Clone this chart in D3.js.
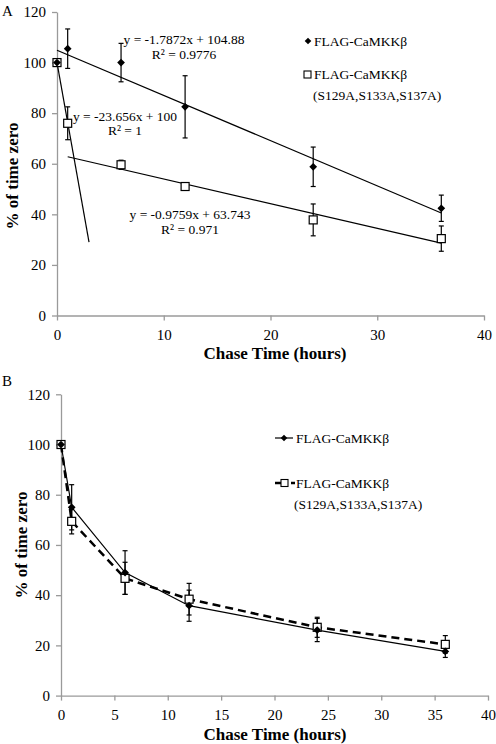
<!DOCTYPE html>
<html><head><meta charset="utf-8">
<script src="https://cdn.jsdelivr.net/npm/d3@7"></script>
<style>body{margin:0;background:#fff}svg{display:block}svg text{font-family:"Liberation Serif","Times New Roman","DejaVu Serif",serif !important}</style>
</head><body>
<svg id="c" width="496" height="744" font-family="Liberation Serif"></svg>
<script>
// ---- data ----
const hours = [0, 1, 6, 12, 24, 36];
const xTicksA = [0, 10, 20, 30, 40];
const xTicksB = [0, 5, 10, 15, 20, 25, 30, 35, 40];
const yTicks = [0, 20, 40, 60, 80, 100, 120];
// Panel A
const wtA = [100, 105.5, 100, 82.5, 58.8, 42.4];
const wtAErr = [0, 7.8, 7.6, 12.3, 7.8, 5.2];
const mutA = [100, 76, 59.6, 51, 37.8, 30.4];
const mutAErr = [0, 6.5, 1.8, 1.3, 6.3, 5.0];
const fits = [
  {slope: -1.7872, intercept: 104.88, from: 0, to: 36, eq: "y = -1.7872x + 104.88", r2: "R² = 0.9776"},
  {slope: -23.656, intercept: 100, from: 0, to: 3, eq: "y = -23.656x + 100", r2: "R² = 1"},
  {slope: -0.9759, intercept: 63.743, from: 1, to: 36, eq: "y = -0.9759x + 63.743", r2: "R² = 0.971"}
];
// Panel B
const wtB = [100, 75, 49, 35.8, 26.1, 17.6];
const wtBErr = [0, 9, 8.7, 6.2, 4.6, 2.4];
const mutB = [100, 69.4, 46.7, 38.4, 27.2, 20.4];
const mutBErr = [0, 5, 6.4, 6.3, 4.0, 3.5];
const legendLabels = ["FLAG-CaMKKβ", "FLAG-CaMKKβ", "(S129A,S133A,S137A)"];

const svg = d3.select("#c");
const axisCol = "#9a9a9a";
const FF = '"Liberation Serif","Times New Roman",serif';

function txt(x, y, s, size, anchor, bold) {
  return svg.append("text").attr("x", x).attr("y", y).attr("font-family", FF)
    .attr("font-size", size).attr("text-anchor", anchor || "start")
    .attr("font-weight", bold ? "bold" : "normal").text(s);
}

function drawAxes(x, y, xticks, panelLetter, letterY, titleY, ytitleX, ytitleY) {
  const g = svg.append("g");
  const yAx = g.append("g").attr("transform", `translate(${x.range()[0]},0)`)
    .call(d3.axisLeft(y).tickValues(yTicks).tickSize(5).tickPadding(6).tickSizeOuter(0));
  const xAx = g.append("g").attr("transform", `translate(0,${y.range()[0]})`)
    .call(d3.axisBottom(x).tickValues(xticks).tickSize(5).tickPadding(9).tickSizeOuter(0));
  [yAx, xAx].forEach(a => {
    a.attr("font-family", FF).attr("font-size", 15);
    a.select(".domain").attr("stroke", axisCol).attr("stroke-width", 1.3);
    a.selectAll(".tick line").attr("stroke", axisCol).attr("stroke-width", 1.3);
    a.selectAll("text").attr("fill", "#000");
  });
  txt(2, letterY, panelLetter, 15);
  txt(275, titleY, "Chase Time (hours)", 17, "middle", true);
  svg.append("text").attr("transform", `translate(${ytitleX},${ytitleY}) rotate(-90)`)
    .attr("font-family", FF).attr("font-size", 17).attr("font-weight", "bold")
    .attr("text-anchor", "middle").text("% of time zero");
}

function errBars(x, y, vals, errs) {
  hours.forEach((h, i) => {
    if (!errs[i]) return;
    const cx = x(h), t = y(vals[i] + errs[i]), b = y(vals[i] - errs[i]);
    svg.append("line").attr("x1", cx).attr("x2", cx).attr("y1", t).attr("y2", b).attr("stroke", "#000").attr("stroke-width", 1.2);
    [t, b].forEach(yy => svg.append("line").attr("x1", cx - 2.5).attr("x2", cx + 2.5).attr("y1", yy).attr("y2", yy).attr("stroke", "#000").attr("stroke-width", 1.2));
  });
}
function diamonds(x, y, vals) {
  hours.forEach((h, i) => svg.append("path").attr("d", d3.symbol().type(d3.symbolSquare).size(30)())
    .attr("transform", `translate(${x(h)},${y(vals[i])}) rotate(45)`).attr("fill", "#000"));
}
function squares(x, y, vals) {
  hours.forEach((h, i) => svg.append("rect").attr("x", x(h) - 4).attr("y", y(vals[i]) - 4).attr("width", 8).attr("height", 8)
    .attr("fill", "#fff").attr("stroke", "#000").attr("stroke-width", 1.2));
}

// ---- Panel A ----
const xA = d3.scaleLinear().domain([0, 40]).range([57, 484]);
const yA = d3.scaleLinear().domain([0, 120]).range([315.5, 12]);
drawAxes(xA, yA, xTicksA, "A", 16, 359, 18, 176);
fits.forEach(f => svg.append("line").attr("x1", xA(f.from)).attr("y1", yA(f.slope * f.from + f.intercept))
  .attr("x2", xA(f.to)).attr("y2", yA(f.slope * f.to + f.intercept)).attr("stroke", "#000").attr("stroke-width", 1.2));
errBars(xA, yA, wtA, wtAErr);
errBars(xA, yA, mutA, mutAErr);
squares(xA, yA, mutA);
diamonds(xA, yA, wtA);
// equation labels
const eqPos = [[184, 44, 59], [125, 121, 135], [190, 219, 234]];
fits.forEach((f, i) => {
  txt(eqPos[i][0], eqPos[i][1], f.eq, 13.5, "middle");
  txt(eqPos[i][0], eqPos[i][2], f.r2, 13.5, "middle");
});
// legend A
svg.append("path").attr("d", d3.symbol().type(d3.symbolSquare).size(22)()).attr("transform", "translate(308,41) rotate(45)").attr("fill", "#000");
txt(314, 46, legendLabels[0], 13.5);
svg.append("rect").attr("x", 304).attr("y", 71).attr("width", 7).attr("height", 7).attr("fill", "#fff").attr("stroke", "#000").attr("stroke-width", 1.1);
txt(314, 79, legendLabels[1], 13.5);
txt(313, 100, legendLabels[2], 13.5);

// ---- Panel B ----
const xB = d3.scaleLinear().domain([0, 40]).range([61, 488]);
const yB = d3.scaleLinear().domain([0, 120]).range([695.6, 394.3]);
drawAxes(xB, yB, xTicksB, "B", 386, 740, 27, 545);
const lineB = d3.line().x((d, i) => xB(hours[i])).y(d => yB(d));
svg.append("path").attr("d", lineB(mutB)).attr("fill", "none").attr("stroke", "#000").attr("stroke-width", 2.5).attr("stroke-dasharray", "8,5");
svg.append("path").attr("d", lineB(wtB)).attr("fill", "none").attr("stroke", "#000").attr("stroke-width", 1.2);
errBars(xB, yB, wtB, wtBErr);
errBars(xB, yB, mutB, mutBErr);
squares(xB, yB, mutB);
diamonds(xB, yB, wtB);
// legend B
svg.append("line").attr("x1", 275).attr("x2", 293).attr("y1", 438).attr("y2", 438).attr("stroke", "#000").attr("stroke-width", 1.2);
svg.append("path").attr("d", d3.symbol().type(d3.symbolSquare).size(22)()).attr("transform", "translate(284,438) rotate(45)").attr("fill", "#000");
txt(296, 443, legendLabels[0], 13.5);
svg.append("line").attr("x1", 275).attr("x2", 295).attr("y1", 483).attr("y2", 483).attr("stroke", "#000").attr("stroke-width", 2.5).attr("stroke-dasharray", "6,10");
svg.append("rect").attr("x", 281).attr("y", 479.5).attr("width", 7).attr("height", 7).attr("fill", "#fff").attr("stroke", "#000").attr("stroke-width", 1.1);
txt(296, 488, legendLabels[1], 13.5);
txt(294, 509, legendLabels[2], 13.5);
</script>
</body></html>
